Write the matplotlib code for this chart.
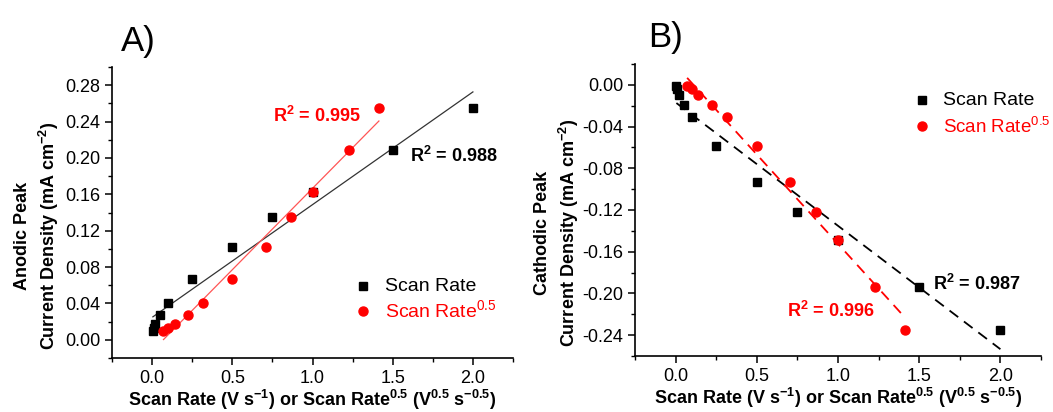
import numpy as np
import matplotlib
matplotlib.use("Agg")
import matplotlib.pyplot as plt
from matplotlib.ticker import MultipleLocator

plt.rcParams['font.family'] = ['Liberation Sans', 'DejaVu Sans']
plt.rcParams['mathtext.fontset'] = 'custom'
plt.rcParams['mathtext.rm'] = 'Liberation Sans'
plt.rcParams['mathtext.bf'] = 'Liberation Sans:bold'

# scan rates (V/s) and their square roots
scan_rate = [0.005, 0.01, 0.02, 0.05, 0.1, 0.25, 0.5, 0.75, 1.0, 1.5, 2.0]
sqrt_rate = [0.071, 0.1, 0.141, 0.224, 0.316, 0.5, 0.707, 0.866, 1.0, 1.225, 1.414]

# anodic / cathodic peak current densities (mA cm-2)
anodic = [0.010, 0.013, 0.017, 0.027, 0.040, 0.067, 0.102, 0.135, 0.163, 0.209, 0.255]
cathodic = [-0.001, -0.004, -0.010, -0.019, -0.031, -0.059, -0.093, -0.122, -0.149, -0.194, -0.235]

r2_labels_a = ["0.988", "0.995"]
r2_labels_b = ["0.987", "0.996"]

fig = plt.figure(figsize=(10.53, 4.12), dpi=100)
ax1 = fig.add_axes([112/1053, 1-358/412, 401/1053, 291/412])
ax2 = fig.add_axes([635/1053, 1-356/412, 406/1053, 292/412])

xlab = r"Scan Rate (V s$^{\mathbf{-1}}$) or Scan Rate$^{\mathbf{0.5}}$ (V$^{\mathbf{0.5}}$ s$^{\mathbf{-0.5}}$)"


def style(ax):
    for s in ["top", "right"]:
        ax.spines[s].set_visible(False)
    ax.spines["left"].set_linewidth(1.2)
    ax.spines["bottom"].set_linewidth(1.2)
    ax.xaxis.set_major_locator(MultipleLocator(0.5))
    ax.xaxis.set_minor_locator(MultipleLocator(0.25))
    ax.yaxis.set_major_locator(MultipleLocator(0.04))
    ax.yaxis.set_minor_locator(MultipleLocator(0.02))
    ax.tick_params(which="major", length=5, width=1.1, labelsize=13, direction="out")
    ax.tick_params(which="minor", length=3, width=1.0, direction="out")
    ax.set_xlim(-0.25, 2.25)
    ax.set_xlabel(xlab, fontsize=13, fontweight="bold", labelpad=1)


def fit(x, y):
    p = np.polyfit(x, y, 1)
    xs = np.array([min(x), max(x)])
    return xs, np.polyval(p, xs)


# panel A
style(ax1)
ax1.set_ylim(-0.02, 0.30)
ax1.yaxis.set_major_formatter(plt.FormatStrFormatter("%.2f"))
xs, ys = fit(scan_rate, anodic)
ax1.plot(xs, ys, color="#333333", lw=0.9)
xs, ys = fit(sqrt_rate, anodic)
ax1.plot(xs, ys, color="#ff5555", lw=0.9)
ax1.plot(scan_rate, anodic, "s", color="black", ms=6)
ax1.plot(sqrt_rate, anodic, "o", color="red", ms=6.5)
ax1.set_ylabel("Anodic Peak\nCurrent Density (mA cm$^{\\mathbf{-2}}$)",
               fontsize=13, fontweight="bold", linespacing=1.3)
ax1.yaxis.set_label_coords(-0.128, 0.42)
ax1.text(0.754, 0.246, "R$^{\\mathbf{2}}$ = " + r2_labels_a[1], color="red",
         fontsize=13, fontweight="bold", va="center")
ax1.text(1.607, 0.2017, "R$^{\\mathbf{2}}$ = " + r2_labels_a[0], color="black",
         fontsize=13, fontweight="bold", va="center")
# legend
ax1.plot([1.315], [0.059], "s", color="black", ms=6)
ax1.plot([1.315], [0.032], "o", color="red", ms=6.5)
ax1.text(1.45, 0.059, "Scan Rate", fontsize=14, va="center", color="black")
ax1.text(1.45, 0.032, "Scan Rate$^{0.5}$", fontsize=14, va="center", color="red")
fig.text(121/1053, 1-42/412, "A)", fontsize=25, va="center")

# panel B
style(ax2)
ax2.set_ylim(-0.26, 0.02)
ax2.yaxis.set_major_formatter(plt.FormatStrFormatter("%.2f"))
xs, ys = fit(scan_rate, cathodic)
ax2.plot(xs, ys, color="black", lw=1.3, ls=(0, (6, 4)))
xs, ys = fit(sqrt_rate, cathodic)
ax2.plot(xs, ys, color="red", lw=1.3, ls=(0, (6, 4)))
ax2.plot(scan_rate, cathodic, "s", color="black", ms=6)
ax2.plot(sqrt_rate, cathodic, "o", color="red", ms=6.5)
ax2.set_ylabel("Cathodic Peak\nCurrent Density (mA cm$^{\\mathbf{-2}}$)",
               fontsize=13, fontweight="bold", linespacing=1.3)
ax2.yaxis.set_label_coords(-0.133, 0.42)
ax2.text(1.588, -0.1907, "R$^{\\mathbf{2}}$ = " + r2_labels_b[0], color="black",
         fontsize=13, fontweight="bold", va="center")
ax2.text(0.689, -0.2166, "R$^{\\mathbf{2}}$ = " + r2_labels_b[1], color="red",
         fontsize=13, fontweight="bold", va="center")
# legend
ax2.plot([1.52], [-0.0147], "s", color="black", ms=6, clip_on=False)
ax2.plot([1.52], [-0.0397], "o", color="red", ms=6.5, clip_on=False)
ax2.text(1.645, -0.0147, "Scan Rate", fontsize=14, va="center", color="black")
ax2.text(1.645, -0.0397, "Scan Rate$^{0.5}$", fontsize=13.5, va="center", color="red")
fig.text(648/1053, 1-38/412, "B)", fontsize=25, va="center")

fig.savefig("out.png", dpi=100)
